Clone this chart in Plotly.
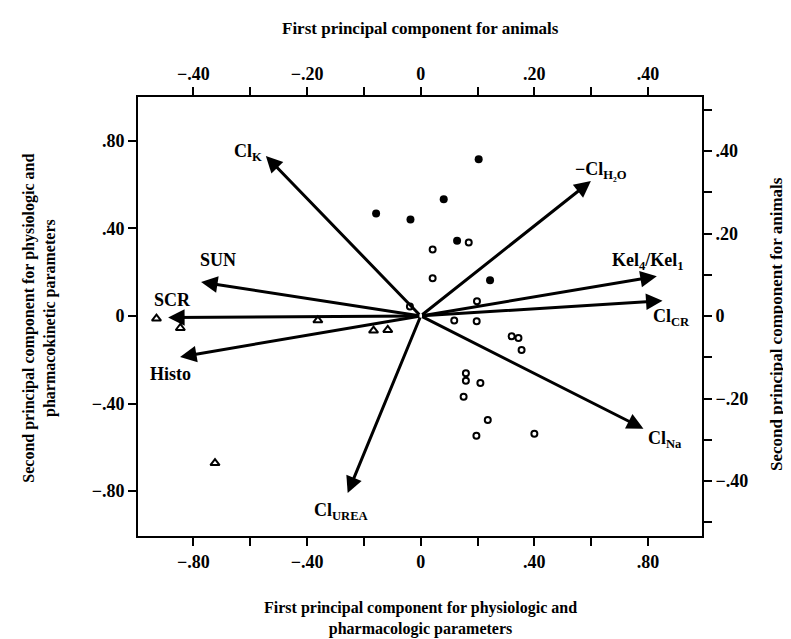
import plotly.graph_objects as go

# ---- data (bottom / left axis units) ----
filled_x = [0.204, 0.081, -0.157, -0.036, 0.128, 0.244]
filled_y = [0.716, 0.533, 0.468, 0.440, 0.344, 0.163]

open_x = [0.042, 0.169, 0.042, -0.038, 0.198, 0.118, 0.197, 0.320, 0.344, 0.355,
          0.159, 0.159, 0.210, 0.151, 0.236, 0.196, 0.400]
open_y = [0.303, 0.335, 0.172, 0.043, 0.067, -0.021, -0.024, -0.093, -0.101, -0.155,
          -0.262, -0.296, -0.306, -0.369, -0.475, -0.547, -0.538]

tri_x = [-0.930, -0.846, -0.362, -0.166, -0.116, -0.724]
tri_y = [-0.012, -0.055, -0.020, -0.067, -0.064, -0.672]

vec_names = ["Cl<sub>K</sub>", "\u2212Cl<sub>H\u2082O</sub>", "SUN", "SCR", "Histo",
             "Kel<sub>4</sub>/Kel<sub>1</sub>", "Cl<sub>CR</sub>", "Cl<sub>Na</sub>",
             "Cl<sub>UREA</sub>"]
vec_x = [-0.545, 0.599, -0.773, -0.889, -0.847, 0.831, 0.851, 0.784, -0.257]
vec_y = [0.731, 0.616, 0.155, -0.007, -0.187, 0.181, 0.070, -0.515, -0.809]
lab_x = [-0.608, 0.633, -0.714, -0.872, -0.879, 0.801, 0.882, 0.861, -0.281]
lab_y = [0.745, 0.663, 0.256, 0.073, -0.265, 0.251, -0.005, -0.562, -0.891]

bottom_ticks = [-0.8, -0.6, -0.4, -0.2, 0, 0.2, 0.4, 0.6, 0.8]
bottom_text = ["\u2212.80", "", "\u2212.40", "", "0", "", ".40", "", ".80"]
left_ticks = [-0.8, -0.4, 0, 0.4, 0.8]
left_text = ["\u2212.80", "\u2212.40", "0", ".40", ".80"]
top_ticks = [-0.4, -0.3, -0.2, -0.1, 0, 0.1, 0.2, 0.3, 0.4]
top_text = ["\u2212.40", "", "\u2212.20", "", "0", "", ".20", "", ".40"]
right_ticks = [-0.5, -0.4, -0.3, -0.2, -0.1, 0, 0.1, 0.2, 0.3, 0.4, 0.5]
right_text = ["", "\u2212.40", "", "\u2212.20", "", "0", "", ".20", "", ".40", ""]

XR = [-0.995, 0.990]     # bottom axis
YR = [-1.005, 1.000]     # left axis
X2R = [XR[0] / 2, XR[1] / 2]   # top axis
Y2R = [-0.533, 0.531]    # right axis

FONT = "Liberation Serif"

fig = go.Figure()
fig.add_trace(go.Scatter(x=filled_x, y=filled_y, mode="markers",
                         marker=dict(symbol="circle", size=8, color="black"),
                         showlegend=False))
fig.add_trace(go.Scatter(x=open_x, y=open_y, mode="markers",
                         marker=dict(symbol="circle-open", size=6, color="black",
                                     line=dict(width=2, color="black")),
                         showlegend=False))
fig.add_trace(go.Scatter(x=tri_x, y=tri_y, mode="markers",
                         marker=dict(symbol="triangle-up-open", size=8, color="black",
                                     line=dict(width=2, color="black")),
                         showlegend=False))
# invisible trace to activate the secondary axes
fig.add_trace(go.Scatter(x=[0], y=[0], xaxis="x2", yaxis="y2", mode="markers",
                         marker=dict(opacity=0), showlegend=False, hoverinfo="skip"))

for nm, vx, vy, lx, ly in zip(vec_names, vec_x, vec_y, lab_x, lab_y):
    fig.add_annotation(x=vx, y=vy, ax=0, ay=0, xref="x", yref="y",
                       axref="x", ayref="y", showarrow=True, arrowhead=2,
                       arrowsize=1.1, arrowwidth=3, arrowcolor="black", text="")
    fig.add_annotation(x=lx, y=ly, xref="x", yref="y", text="<b>" + nm + "</b>",
                       showarrow=False, xanchor="center", yanchor="middle",
                       font=dict(family=FONT, size=18, color="black"))

axis_common = dict(showgrid=False, zeroline=False, showline=True, linecolor="black",
                   linewidth=2, ticks="outside", ticklen=8, tickwidth=2,
                   tickcolor="black", tickmode="array",
                   tickfont=dict(family=FONT, size=18, color="black"))

fig.update_layout(
    width=791, height=639,
    margin=dict(l=130, r=97, t=89, b=111),
    paper_bgcolor="white", plot_bgcolor="white",
    showlegend=False,
    xaxis=dict(range=XR, tickvals=bottom_ticks,
               ticktext=["<b>" + t + "</b>" if t else "" for t in bottom_text],
               **axis_common),
    yaxis=dict(range=YR, tickvals=left_ticks,
               ticktext=["<b>" + t + "</b>" for t in left_text], **axis_common),
    xaxis2=dict(range=X2R, overlaying="x", side="top",
                anchor="y", tickvals=top_ticks,
                ticktext=["<b>" + t + "</b>" if t else "" for t in top_text],
                **axis_common),
    yaxis2=dict(range=Y2R, overlaying="y", side="right",
                anchor="x", tickvals=right_ticks,
                ticktext=["<b>" + t + "</b>" if t else "" for t in right_text],
                **axis_common),
)

tf = dict(family=FONT, size=16, color="black")
fig.add_annotation(xref="paper", yref="paper", x=0.5, y=1.155, xanchor="center",
                   yanchor="middle",
                   text="<b>First principal component for animals</b>",
                   showarrow=False, font=dict(family=FONT, size=17, color="black"))
fig.add_annotation(xref="paper", yref="paper", x=0.5, y=-0.187, xanchor="center",
                   yanchor="middle",
                   text="<b>First principal component for physiologic and<br>pharmacologic parameters</b>",
                   showarrow=False, font=tf)
fig.add_annotation(xref="paper", yref="paper", x=-0.174, y=0.497, xanchor="center",
                   yanchor="middle", textangle=-90,
                   text="<b>Second principal component for physiologic and<br>pharmacokinetic parameters</b>",
                   showarrow=False, font=tf)
fig.add_annotation(xref="paper", yref="paper", x=1.133, y=0.483, xanchor="center",
                   yanchor="middle", textangle=-90,
                   text="<b>Second principal component for animals</b>",
                   showarrow=False, font=dict(family=FONT, size=17, color="black"))

fig.write_html("out.html")
